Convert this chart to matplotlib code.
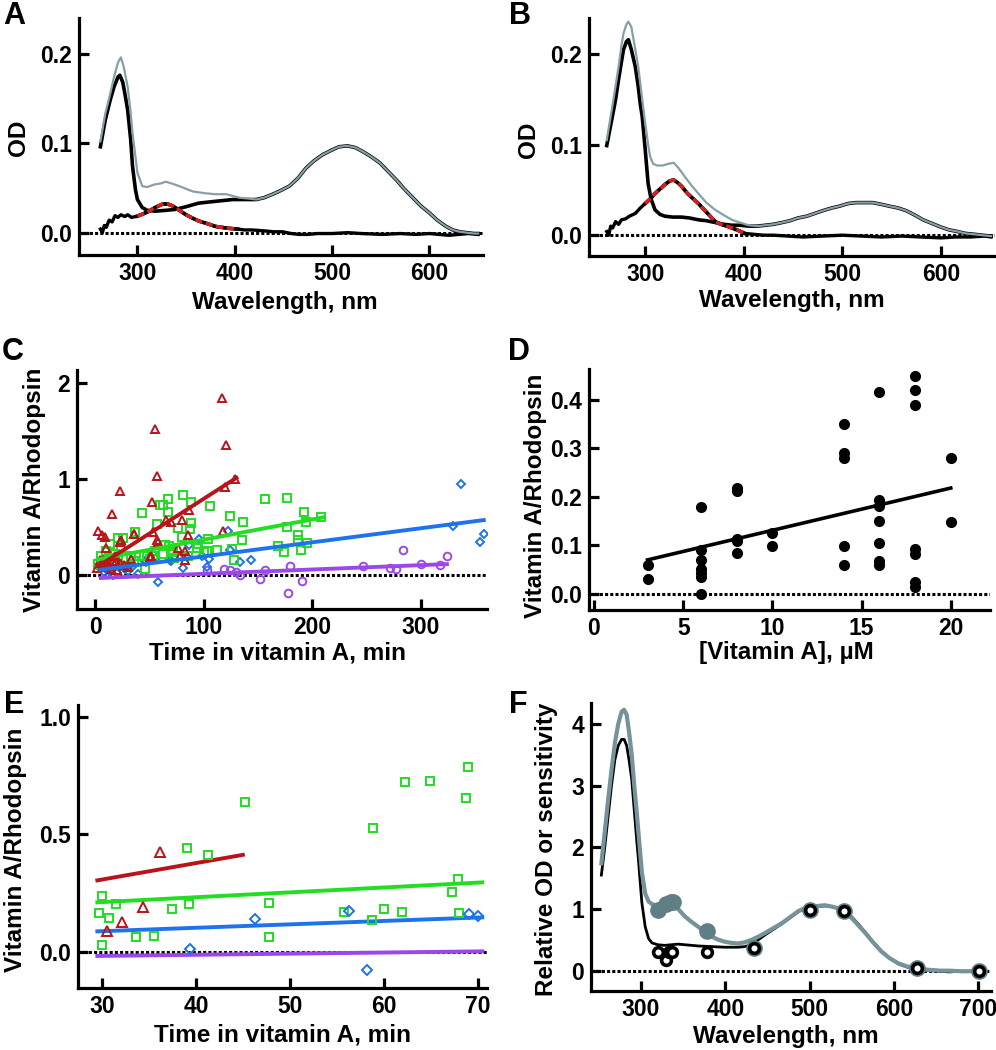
import numpy as np
import matplotlib
matplotlib.use("Agg")
import matplotlib.pyplot as plt

plt.rcParams['font.family'] = ['Liberation Sans', 'DejaVu Sans']
plt.rcParams['font.weight'] = 'bold'

# ---------------- panel A spectra ----------------
a_grey_wl = [262, 267, 272, 276, 280, 283, 286, 290, 293, 295, 298, 300, 305, 310, 318, 324,
             329, 335, 343, 350, 357, 370, 380, 391, 405, 415, 422]
a_grey_od = [0.102, 0.133, 0.155, 0.174, 0.190, 0.196, 0.185, 0.163, 0.135, 0.111, 0.085, 0.067,
             0.052, 0.051, 0.054, 0.055, 0.057, 0.055, 0.052, 0.049, 0.046, 0.044, 0.043, 0.043,
             0.039, 0.038, 0.037]
a_black_wl = [262, 267, 272, 276, 280, 282, 285, 288, 290, 293, 295, 298, 300, 305, 310, 318,
              330, 339, 350, 363, 380, 398, 418]
a_black_od = [0.096, 0.126, 0.148, 0.163, 0.174, 0.176, 0.168, 0.150, 0.137, 0.105, 0.074, 0.048,
              0.037, 0.028, 0.025, 0.024, 0.025, 0.026, 0.029, 0.033, 0.035, 0.037, 0.037]
# shared long-wavelength part (both spectra overlap)
a_tail_wl = [422, 430, 439, 447, 456, 465, 473, 481, 490, 499, 507, 516, 524, 531, 540, 549, 557,
             566, 574, 583, 591, 600, 608, 617, 624, 631, 638, 646, 650]
a_tail_od = [0.037, 0.039, 0.043, 0.047, 0.052, 0.061, 0.072, 0.080, 0.087, 0.092, 0.096, 0.097,
             0.095, 0.091, 0.085, 0.078, 0.069, 0.059, 0.049, 0.039, 0.030, 0.022, 0.014, 0.007,
             0.003, 0.001, 0.000, -0.001, -0.001]
a_diff_wl = [262, 264, 266, 268, 271, 274, 277, 280, 283, 287, 290, 294, 298, 300, 306, 312, 318,
             326, 331, 336, 343, 350, 357, 363, 372, 380, 392, 403, 410, 418, 430, 440, 449, 458,
             466, 475, 485, 500, 516, 530, 552, 570, 586, 600, 610, 620, 630, 640, 650]
a_diff_od = [0.004, 0.000, 0.008, 0.006, 0.014, 0.012, 0.019, 0.017, 0.020, 0.018, 0.020, 0.017,
             0.018, 0.0185, 0.021, 0.024, 0.028, 0.032, 0.032, 0.030, 0.025, 0.020, 0.016, 0.013,
             0.010, 0.007, 0.005, 0.004, 0.003, 0.003, 0.002, 0.001, 0.001, -0.001, -0.002, -0.002,
             -0.001, -0.001, 0.000, -0.001, -0.002, -0.001, -0.002, -0.001, -0.002, -0.003, -0.002,
             -0.001, -0.002]
a_fit_wl = [300, 306, 312, 318, 326, 331, 336, 343, 350, 357, 363, 372, 380, 392, 403]
a_fit_od = [0.0185, 0.021, 0.024, 0.028, 0.032, 0.032, 0.030, 0.025, 0.020, 0.016, 0.013, 0.010,
            0.007, 0.005, 0.004]

# ---------------- panel B spectra ----------------
b_grey_wl = [261, 266, 270, 273, 276, 278, 281, 283, 286, 290, 293, 297, 300, 303, 305, 308, 312,
             318, 324, 329, 334, 340, 347, 354, 362, 371, 380, 388, 396, 405, 414]
b_grey_od = [0.105, 0.138, 0.165, 0.186, 0.210, 0.223, 0.233, 0.236, 0.230, 0.205, 0.186, 0.150,
             0.124, 0.100, 0.087, 0.079, 0.077, 0.077, 0.079, 0.080, 0.074, 0.065, 0.055, 0.046,
             0.036, 0.028, 0.022, 0.017, 0.014, 0.011, 0.010]
b_black_wl = [261, 266, 270, 273, 276, 278, 281, 283, 286, 290, 293, 295, 297, 300, 303, 306, 310,
              315, 320, 328, 337, 345, 354, 362, 371, 380, 388, 396, 405, 414]
b_black_od = [0.099, 0.127, 0.150, 0.172, 0.192, 0.205, 0.214, 0.216, 0.205, 0.186, 0.164, 0.145,
              0.131, 0.095, 0.057, 0.040, 0.028, 0.023, 0.021, 0.020, 0.020, 0.019, 0.017, 0.016,
              0.014, 0.012, 0.011, 0.011, 0.010, 0.010]
b_tail_wl = [414, 422, 430, 439, 447, 455, 464, 472, 480, 489, 497, 506, 514, 523, 531, 540, 548,
             557, 565, 574, 582, 591, 600, 608, 617, 625, 634, 642, 651]
b_tail_od = [0.010, 0.011, 0.012, 0.014, 0.016, 0.019, 0.021, 0.024, 0.027, 0.030, 0.032, 0.035,
             0.036, 0.036, 0.036, 0.034, 0.032, 0.030, 0.027, 0.022, 0.017, 0.013, 0.009, 0.006,
             0.004, 0.002, 0.001, 0.000, -0.001]
b_diff_wl = [261, 263, 265, 267, 270, 273, 276, 280, 284, 290, 295, 300, 305, 310, 315, 320, 325,
             329, 333, 337, 343, 349, 354, 360, 366, 371, 377, 383, 388, 395, 401, 410, 420, 430,
             445, 460, 480, 500, 520, 540, 560, 580, 600, 615, 630, 645, 651]
b_diff_od = [0.004, 0.000, 0.010, 0.008, 0.015, 0.012, 0.017, 0.018, 0.021, 0.024, 0.030, 0.035,
             0.040, 0.046, 0.051, 0.056, 0.060, 0.061, 0.058, 0.054, 0.046, 0.040, 0.035, 0.028,
             0.021, 0.015, 0.012, 0.010, 0.008, 0.005, 0.002, 0.001, 0.000, 0.000, -0.001, -0.002,
             -0.001, 0.000, -0.001, -0.002, -0.001, -0.002, -0.003, -0.002, -0.002, -0.001, -0.002]
b_fit_wl = [300, 305, 310, 315, 320, 325, 329, 333, 337, 343, 349, 354, 360, 366, 371, 377, 383,
            388, 395, 401]
b_fit_od = [0.035, 0.040, 0.046, 0.051, 0.056, 0.060, 0.061, 0.058, 0.054, 0.046, 0.040, 0.035,
            0.028, 0.021, 0.015, 0.012, 0.010, 0.008, 0.005, 0.002]

# ---------------- panel C: vitamin A / rhodopsin vs time ----------------
c_red_t = [116.3, 55.2, 120, 56.3, 22.5, 15.7, 129, 119.7, 52.6, 86.5, 79.4, 69.5, 64.9, 35.4,
           53.2, 56.9, 23.4, 85.5, 117.2, 2.8, 6.2, 8.9, 10, 76, 83, 51, 33, 82.5, 4, 1, 5, 7,
           16.3, 22.5, 12, 18, 26, 30, 14, 20, 35.6, 57.8, 22.4, 50, 10, 19.4, 77.8]
c_red_r = [1.84, 1.52, 1.354, 1.03, 0.877, 0.636, 1.0, 0.92, 0.756, 0.68, 0.577, 0.55, 0.577, 0.43,
           0.446, 0.363, 0.363, 0.42, 0.463, 0.456, 0.42, 0.40, 0.283, 0.283, 0.25, 0.197, 0.17,
           0.16, 0.16, 0.08, 0.13, 0.16, 0.145, 0.128, 0.1, 0.2, 0.11, 0.09, 0.06, 0.05, 0.43,
           0.35, 0.35, 0.19, 0.09, 0.145, 0.2]
c_green_t = [80.3, 66.5, 62.5, 59.4, 88, 105.5, 42.8, 66.8, 156, 176.3, 192.3, 207.7, 194, 177,
             124, 136.3, 88, 87, 76, 56.3, 36.3, 64, 79.4, 93.2, 104, 112.3, 102.5, 125.5, 134.8,
             128, 168, 174, 187, 186.5, 189.5, 195, 45.5, 21, 25, 13.2, 71.7, 53.2, 62, 45, 32.6,
             2, 5, 8, 10, 14, 18, 20, 24, 28, 30, 36, 40, 50, 55, 68, 72, 85, 95, 100]
c_green_r = [0.829, 0.794, 0.725, 0.725, 0.76, 0.715, 0.646, 0.66, 0.788, 0.798, 0.653, 0.601,
             0.55, 0.5, 0.611, 0.55, 0.542, 0.484, 0.49, 0.535, 0.449, 0.311, 0.397, 0.283, 0.376,
             0.259, 0.249, 0.276, 0.37, 0.155, 0.3, 0.242, 0.415, 0.37, 0.266, 0.335, 0.066, 0.387,
             0.387, 0.328, 0.238, 0.204, 0.22, 0.2, 0.197, 0.12, 0.2, 0.15, 0.25, 0.18, 0.22, 0.12,
             0.28, 0.18, 0.1, 0.15, 0.2, 0.17, 0.25, 0.3, 0.18, 0.2, 0.32, 0.24]
c_blue_t = [337, 330, 358, 355, 95.7, 122.5, 86, 124, 105, 103, 98, 84, 81, 68.6, 133, 143.4, 57.8,
            46, 39.4, 16.3, 17.8, 13, 22.5, 4.6, 27, 34, 8, 11, 20, 25, 30, 56, 69, 70, 46.3]
c_blue_r = [0.95, 0.515, 0.432, 0.342, 0.38, 0.456, 0.318, 0.259, 0.173, 0.086, 0.197, 0.19, 0.076,
            0.162, 0.138, 0.162, -0.069, 0.145, 0.017, 0.0, 0.128, 0.162, 0.093, 0.076, 0.066,
            0.086, 0.03, 0.05, 0.02, 0.1, 0.04, 0.175, 0.161, 0.151, 0.141]
c_purple_t = [284, 324, 300, 318, 247, 271.7, 277, 179.4, 177.8, 190.8, 151.7, 118.5, 124, 130,
              133, 156.3, 102.5]
c_purple_r = [0.259, 0.197, 0.117, 0.104, 0.1, 0.076, 0.066, 0.093, -0.183, -0.062, -0.038, 0.069,
              0.052, 0.035, 0.007, 0.052, 0.052]
# fitted lines: (intercept, slope, t start, t end)
c_fits = {'red': (0.075, 0.0072, 3, 130), 'green': (0.16, 0.0021, 2, 210),
          'blue': (0.05, 0.00146, 5, 358), 'purple': (-0.03, 0.00045, 5, 324)}

# ---------------- panel D: vs vitamin A concentration ----------------
d_conc = [3, 3, 6, 6, 6, 6, 6, 6, 6, 8, 8, 8, 8, 8, 10, 10, 14, 14, 14, 14, 14,
          16, 16, 16, 16, 16, 16, 16, 18, 18, 18, 18, 18, 18, 18, 20, 20]
d_ratio = [0.060, 0.030, 0.180, 0.091, 0.069, 0.051, 0.044, 0.034, 0.0, 0.219, 0.212, 0.113, 0.108,
           0.085, 0.126, 0.099, 0.349, 0.290, 0.279, 0.099, 0.060, 0.416, 0.193, 0.181, 0.151,
           0.104, 0.067, 0.060, 0.449, 0.420, 0.389, 0.092, 0.082, 0.025, 0.014, 0.279, 0.149]
d_fit = (0.044, 0.0087, 3, 20)

# ---------------- panel E: 30-70 min ----------------
e_green_t = [29.7, 30.0, 30.7, 31.5, 30.0, 33.6, 35.5, 37.5, 39.3, 39.1, 41.3, 45.2, 47.8, 47.8,
             55.8, 58.9, 58.8, 60.0, 61.9, 62.3, 64.9, 67.3, 67.9, 68.0, 68.8, 69.0]
e_green_r = [0.165, 0.240, 0.144, 0.202, 0.031, 0.064, 0.069, 0.184, 0.204, 0.443, 0.412, 0.638,
             0.208, 0.062, 0.170, 0.526, 0.137, 0.184, 0.168, 0.724, 0.728, 0.255, 0.311, 0.165,
             0.653, 0.788]
e_red_t = [36.2, 34.4, 32.1, 30.5]
e_red_r = [0.427, 0.191, 0.126, 0.091]
e_blue_t = [39.4, 46.3, 56.3, 58.2, 69.1, 70.0]
e_blue_r = [0.013, 0.141, 0.175, -0.078, 0.161, 0.151]
e_fits = {'red': (0.098, 0.0070, 29.5, 45), 'green': (0.150, 0.00207, 29.5, 70.5),
          'blue': (0.045, 0.00145, 29.5, 70.5), 'purple': (-0.031, 0.00048, 29.5, 70.5)}

# ---------------- panel F: relative spectra + sensitivity ----------------
f_grey_wl = [253, 257, 261, 265, 269, 273, 277, 280, 283, 286, 289, 292, 295, 297, 301, 305, 309,
             313, 317, 321, 328, 336, 344, 352, 360, 368, 376, 384, 392, 399, 407, 415, 423, 431,
             439, 447, 457, 467, 477, 487, 494, 502, 510, 518, 526, 534, 542, 550, 558, 566, 575,
             585, 595, 605, 615, 625, 635, 645, 655, 665, 680, 690, 703]
f_grey_od = [1.74, 2.25, 2.77, 3.25, 3.69, 4.00, 4.20, 4.23, 4.15, 3.85, 3.50, 3.00, 2.55, 2.23,
             1.60, 1.25, 1.12, 1.08, 1.06, 1.03, 1.08, 1.12, 1.00, 0.88, 0.79, 0.71, 0.63, 0.55,
             0.50, 0.47, 0.45, 0.44, 0.46, 0.50, 0.55, 0.61, 0.69, 0.77, 0.87, 0.97, 1.01, 1.03,
             1.05, 1.06, 1.04, 1.01, 0.95, 0.85, 0.73, 0.61, 0.46, 0.31, 0.20, 0.12, 0.07, 0.04,
             0.02, 0.01, 0.00, 0.00, -0.01, -0.01, 0.00]
f_black_wl = [253, 257, 261, 265, 269, 273, 277, 280, 283, 286, 289, 292, 295, 297, 301, 305, 309,
              313, 320, 328, 336, 344, 352, 360, 368, 384, 399, 415, 423, 431, 439, 447, 457, 467,
              477, 487, 494, 502, 510, 518, 526, 534, 542, 550, 558, 566, 575, 585, 595, 605, 615,
              625, 635, 645, 655, 665, 680, 690, 700]
f_black_od = [1.55, 2.00, 2.50, 3.00, 3.42, 3.65, 3.75, 3.75, 3.65, 3.40, 3.10, 2.60, 2.10, 1.79,
              1.10, 0.71, 0.52, 0.45, 0.42, 0.41, 0.42, 0.43, 0.42, 0.41, 0.40, 0.39, 0.38, 0.38,
              0.39, 0.42, 0.50, 0.58, 0.67, 0.76, 0.86, 0.96, 1.00, 1.02, 1.04, 1.05, 1.04, 1.01,
              0.96, 0.87, 0.75, 0.62, 0.47, 0.32, 0.20, 0.11, 0.06, 0.03, 0.01, 0.00, -0.01,
              -0.02, -0.01, -0.01, 0.00]
f_sens_grey_wl = [320, 330, 336, 338, 378, 434, 500, 541, 627, 701]
f_sens_grey = [0.99, 1.08, 1.12, 1.11, 0.65, 0.36, 0.99, 0.97, 0.05, -0.01]
f_sens_black_wl = [320, 330, 333, 337, 378, 434, 500, 541, 627, 701]
f_sens_black = [0.30, 0.18, 0.31, 0.31, 0.30, 0.36, 0.99, 0.97, 0.05, -0.01]

RED = '#b8141b'
GREEN = '#22dd22'
BLUE = '#1f72ee'
PURPLE = '#9a48ea'
GREY = '#86a0a5'
GREY_F = '#76939a'
GREY_DOT = '#5f7f85'

W, H = 996, 1050
fig = plt.figure(figsize=(W / 100, H / 100), dpi=100)


def box(x0, y0, x1, y1):
    # pixel box -> figure fraction
    return [x0 / W, 1 - y1 / H, (x1 - x0) / W, (y1 - y0) / H]


def txt(x, y, s, **kw):
    fig.text(x / W, 1 - y / H, s, ha='center', va='center', fontweight='bold', **kw)


def setup(ax, xlim, ylim, xt, yt, yfmt):
    ax.set_xlim(xlim)
    ax.set_ylim(ylim)
    for s in ['top', 'right']:
        ax.spines[s].set_visible(False)
    for s in ['left', 'bottom']:
        ax.spines[s].set_linewidth(2.3)
    ax.set_xticks(xt)
    ax.set_yticks(yt)
    ax.set_yticklabels([yfmt.format(v) for v in yt])
    ax.tick_params(direction='in', length=7.5, width=2.3, labelsize=16.5, pad=5)
    for lab in ax.get_xticklabels() + ax.get_yticklabels():
        lab.set_fontweight('bold')


def zero(ax):
    ax.axhline(0, color='black', lw=2.2, ls=(0, (1, 0.7)), dash_capstyle='butt', zorder=1)


# A
ax = fig.add_axes(box(79, 18, 483, 255))
setup(ax, (240, 655), (-0.025, 0.24), [300, 400, 500, 600], [0.0, 0.1, 0.2], '{:.1f}')
zero(ax)
ax.plot(a_diff_wl, a_diff_od, color='black', lw=2.4, zorder=3)
ax.plot(a_black_wl + a_tail_wl, a_black_od + a_tail_od, color='black', lw=2.6, zorder=3)
ax.plot(a_grey_wl + a_tail_wl, a_grey_od + a_tail_od, color=GREY, lw=1.6, zorder=4)
ax.plot(a_fit_wl, a_fit_od, color='black', lw=2.6, zorder=5)
ax.plot(a_fit_wl, a_fit_od, color='#d42020', lw=2.6, ls=(0, (2.0, 1.0)), dash_capstyle='butt', zorder=6)
txt(18, 138, 'OD', fontsize=17.5, rotation=90)
txt(285, 302, 'Wavelength, nm', fontsize=17.5)
txt(14, 16, 'A', fontsize=22)

# B
ax = fig.add_axes(box(589, 18, 995, 256))
setup(ax, (243, 655), (-0.023, 0.24), [300, 400, 500, 600], [0.0, 0.1, 0.2], '{:.1f}')
zero(ax)
ax.plot(b_diff_wl, b_diff_od, color='black', lw=2.4, zorder=3)
ax.plot(b_black_wl + b_tail_wl, b_black_od + b_tail_od, color='black', lw=2.6, zorder=3)
ax.plot(b_grey_wl + b_tail_wl, b_grey_od + b_tail_od, color=GREY, lw=1.6, zorder=4)
ax.plot(b_fit_wl, b_fit_od, color='black', lw=2.6, zorder=5)
ax.plot(b_fit_wl, b_fit_od, color='#d42020', lw=2.6, ls=(0, (2.0, 1.0)), dash_capstyle='butt', zorder=6)
txt(528, 140, 'OD', fontsize=17.5, rotation=90)
txt(792, 300, 'Wavelength, nm', fontsize=17.5)
txt(520, 16, 'B', fontsize=22)

# C
ax = fig.add_axes(box(77, 370, 487, 609))
setup(ax, (-17, 361), (-0.35, 2.13), [0, 100, 200, 300], [0, 1, 2], '{:.0f}')
zero(ax)
mk = dict(ls='none', mfc='none', mew=1.4)
ax.plot(c_purple_t, c_purple_r, marker='o', ms=5.5, mec=PURPLE, **mk)
ax.plot(c_blue_t, c_blue_r, marker='D', ms=4.5, mec=BLUE, **mk)
ax.plot(c_green_t, c_green_r, marker='s', ms=5.5, mec=GREEN, **mk)
ax.plot(c_red_t, c_red_r, marker='^', ms=6, mec=RED, **mk)
for name, col in [('purple', PURPLE), ('blue', BLUE), ('green', GREEN), ('red', RED)]:
    a0, a1, t0, t1 = c_fits[name]
    ax.plot([t0, t1], [a0 + a1 * t0, a0 + a1 * t1], color=col, lw=2.8, zorder=4)
txt(34, 490, 'Vitamin A/Rhodopsin', fontsize=17.5, rotation=90)
txt(277, 653, 'Time in vitamin A, min', fontsize=17.5)
txt(13, 352, 'C', fontsize=22)

# D
ax = fig.add_axes(box(589, 369, 990, 610))
setup(ax, (-0.28, 22.2), (-0.033, 0.463), [0, 5, 10, 15, 20], [0.0, 0.1, 0.2, 0.3, 0.4], '{:.1f}')
zero(ax)
ax.plot(d_conc, d_ratio, 'o', color='black', ms=7, zorder=3)
a0, a1, c0, c1 = d_fit
ax.plot([c0, c1], [a0 + a1 * c0, a0 + a1 * c1], color='black', lw=2.6, zorder=4)
txt(535, 496, 'Vitamin A/Rhodopsin', fontsize=17.5, rotation=90)
txt(786, 653, '[Vitamin A], µM', fontsize=17.5)
txt(519, 352, 'D', fontsize=22)

# E
ax = fig.add_axes(box(78, 705, 487, 988))
setup(ax, (27.44, 71.0), (-0.153, 1.05), [30, 40, 50, 60, 70], [0.0, 0.5, 1.0], '{:.1f}')
zero(ax)
for name, col in [('purple', PURPLE), ('blue', BLUE), ('green', GREEN), ('red', RED)]:
    a0, a1, t0, t1 = e_fits[name]
    ax.plot([t0, t1], [a0 + a1 * t0, a0 + a1 * t1], color=col, lw=2.8, zorder=2)
ax.plot(e_green_t, e_green_r, marker='s', ms=6, mec=GREEN, **mk)
ax.plot(e_blue_t, e_blue_r, marker='D', ms=5.5, mec=BLUE, **mk)
ax.plot(e_red_t, e_red_r, marker='^', ms=7.5, mec=RED, **mk)
txt(16, 850, 'Vitamin A/Rhodopsin', fontsize=17.5, rotation=90)
txt(283, 1035, 'Time in vitamin A, min', fontsize=17.5)
txt(14, 705, 'E', fontsize=22)

# F
ax = fig.add_axes(box(591, 703, 991, 991))
setup(ax, (240.7, 715), (-0.33, 4.34), [300, 400, 500, 600, 700], [0, 1, 2, 3, 4], '{:.0f}')
zero(ax)
ax.plot(f_black_wl, f_black_od, color='black', lw=2.0, zorder=3)
ax.plot(f_grey_wl, f_grey_od, color=GREY_F, lw=3.0, zorder=4)
ax.plot(f_sens_grey_wl, f_sens_grey, 'o', color=GREY_DOT, ms=11, ls='none', zorder=5)
ax.plot(f_sens_black_wl, f_sens_black, 'o', mfc='white', mec='black', mew=2.6, ms=7, ls='none', zorder=6)
txt(547, 849, 'Relative OD or sensitivity', fontsize=17.5, rotation=90)
txt(786, 1037, 'Wavelength, nm', fontsize=17.5)
txt(518, 705, 'F', fontsize=22)

fig.savefig('out.png', dpi=100)
